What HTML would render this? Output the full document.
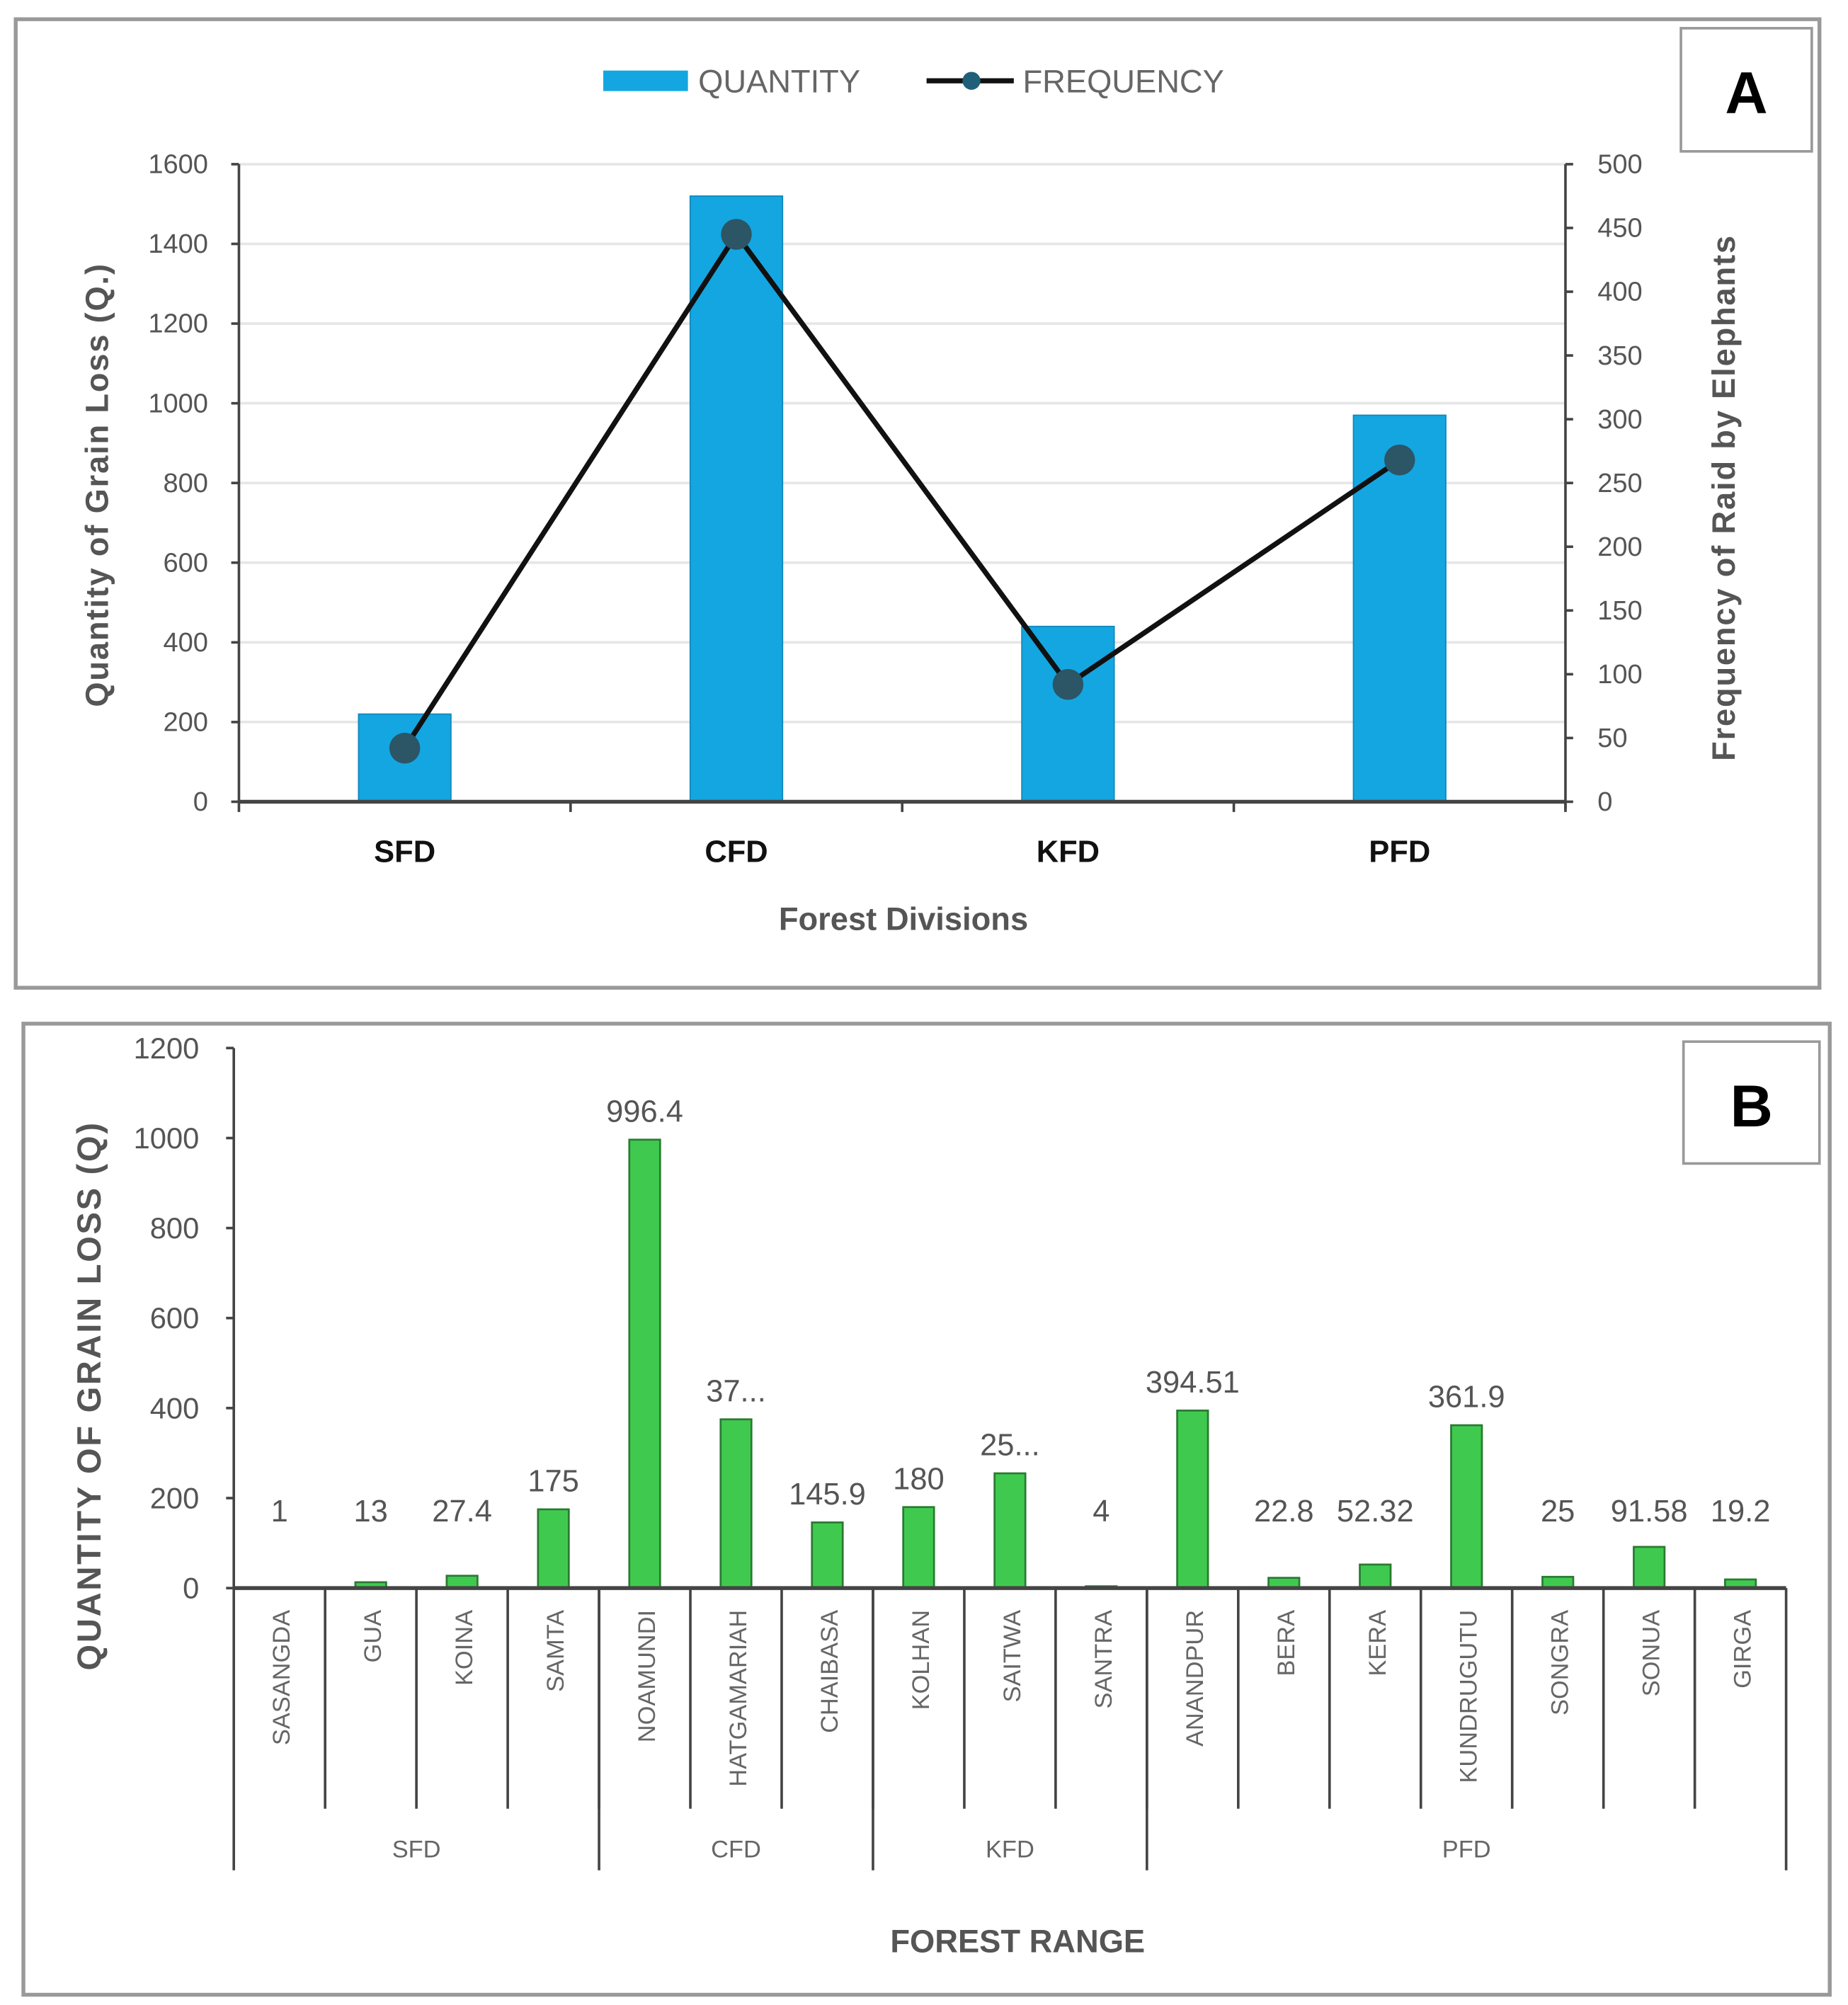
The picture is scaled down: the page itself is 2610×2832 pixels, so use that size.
<!DOCTYPE html>
<html><head><meta charset="utf-8"><style>
html,body{margin:0;padding:0;background:#fff}
svg{display:block}
text{font-family:"Liberation Sans",sans-serif}
</style></head><body>
<svg id="chart" width="2610" height="2832" viewBox="0 0 1440 1563" xmlns="http://www.w3.org/2000/svg">
<rect x="0" y="0" width="1440" height="1563" fill="#fff"/>
<g id="pa">
<rect x="12" y="15" width="1406" height="755" fill="#fff" stroke="#999" stroke-width="3"/>
<rect x="1310" y="22" width="102" height="96" fill="#fff" stroke="#999" stroke-width="2"/>
<text x="1361" y="88" font-size="46" font-weight="bold" text-anchor="middle">A</text>
<rect x="470" y="55" width="66" height="16" fill="#14a6e0"/>
<text x="544" y="72" font-size="25" fill="#666">QUANTITY</text>
<line x1="722" y1="63" x2="790" y2="63" stroke="#111" stroke-width="4"/>
<circle cx="757" cy="63" r="7" fill="#1f5f7a"/>
<text x="797" y="72" font-size="25" fill="#666">FREQUENCY</text>
<text transform="translate(84,378) rotate(-90)" font-size="25" font-weight="bold" fill="#555" text-anchor="middle" letter-spacing="1">Quantity of Grain Loss (Q.)</text>
<text transform="translate(1352,388) rotate(-90)" font-size="25" font-weight="bold" fill="#555" text-anchor="middle" letter-spacing="1">Frequency of Raid by Elephants</text>
<text x="704" y="725" font-size="25" font-weight="bold" fill="#555" text-anchor="middle">Forest Divisions</text>
</g>
<g id="pb">
<rect x="18" y="798" width="1408" height="757" fill="#fff" stroke="#999" stroke-width="3"/>
<rect x="1312" y="812" width="106" height="95" fill="#fff" stroke="#999" stroke-width="2"/>
<text x="1365" y="878" font-size="46" font-weight="bold" text-anchor="middle">B</text>
<text transform="translate(78,1088) rotate(-90)" font-size="26" font-weight="bold" fill="#555" text-anchor="middle" letter-spacing="1.5">QUANTITY OF GRAIN LOSS (Q)</text>
<text x="793" y="1522" font-size="25" font-weight="bold" fill="#555" text-anchor="middle">FOREST RANGE</text>
</g>
</svg>
<script>
// Panel A data
const divisions = ["SFD","CFD","KFD","PFD"];
const quantityA = [220,1520,440,970];
const frequencyA = [42,445,92,268];
const leftTicks = [0,200,400,600,800,1000,1200,1400,1600];
const rightTicks = [0,50,100,150,200,250,300,350,400,450,500];
// Panel B data
const ranges = ["SASANGDA","GUA","KOINA","SAMTA","NOAMUNDI","HATGAMARIAH","CHAIBASA","KOLHAN","SAITWA","SANTRA","ANANDPUR","BERA","KERA","KUNDRUGUTU","SONGRA","SONUA","GIRGA"];
const quantityB = [1,13,27.4,175,996.4,375,145.9,180,255,4,394.51,22.8,52.32,361.9,25,91.58,19.2];
const labelsB = ["1","13","27.4","175","996.4","37...","145.9","180","25...","4","394.51","22.8","52.32","361.9","25","91.58","19.2"];
const groups = ["SFD","CFD","KFD","PFD"];
const groupSizes = [4,3,3,7];
const ticksB = [0,200,400,600,800,1000,1200];

const NS="http://www.w3.org/2000/svg";
function mk(parent,tag,attrs,txt){const e=document.createElementNS(NS,tag);for(const k in attrs)e.setAttribute(k,attrs[k]);if(txt!==undefined)e.textContent=txt;parent.appendChild(e);return e;}

// Panel A
const pa=document.getElementById('pa');
const aL=186,aR=1220,aB=625,aT=128;
const yA=v=>aB-(v/1600)*(aB-aT);
const yF=v=>aB-(v/500)*(aB-aT);
const bw=(aR-aL)/divisions.length;
const xA=i=>aL+bw*(i+0.5);
leftTicks.forEach(t=>{
  if(t>0){const g=mk(pa,'line',{x1:aL,x2:aR,y1:yA(t),y2:yA(t),stroke:'#e6e6e6','stroke-width':2});
  
  }
  mk(pa,'line',{x1:aL-6,x2:aL,y1:yA(t),y2:yA(t),stroke:'#444','stroke-width':2});
  const l=mk(pa,'text',{x:162,y:yA(t)+7,'font-size':21,fill:'#555','text-anchor':'end'},t);
  
  
});
rightTicks.forEach(t=>{
  mk(pa,'line',{x1:aR,x2:aR+6,y1:yF(t),y2:yF(t),stroke:'#444','stroke-width':2});
  const l=mk(pa,'text',{x:1245,y:yF(t)+7,'font-size':21,fill:'#555'},t);
  
  
});
quantityA.forEach((v,i)=>{
  const r=mk(pa,'rect',{x:xA(i)-36,y:yA(v),width:72,height:aB-yA(v),fill:'#14a6e0',stroke:'#1189bd','stroke-width':1});
  
  
  const l=mk(pa,'text',{x:xA(i),y:672,'font-size':24,'font-weight':'bold',fill:'#111','text-anchor':'middle'},divisions[i]);
  
  
});
mk(pa,'line',{x1:aL,x2:aL,y1:aT,y2:aB,stroke:'#444','stroke-width':2});
mk(pa,'line',{x1:aR,x2:aR,y1:aT,y2:aB+6,stroke:'#444','stroke-width':2});
mk(pa,'line',{x1:aL,x2:aR,y1:aB,y2:aB,stroke:'#444','stroke-width':3});
for(let i=0;i<=divisions.length;i++)mk(pa,'line',{x1:aL+bw*i,x2:aL+bw*i,y1:aB,y2:aB+8,stroke:'#444','stroke-width':2});
const pl=mk(pa,'polyline',{points:frequencyA.map((v,i)=>xA(i)+','+yF(v)).join(' '),fill:'none',stroke:'#111','stroke-width':4});


frequencyA.forEach((v,i)=>{
  const c=mk(pa,'circle',{cx:xA(i),cy:yF(v),r:12,fill:'#2c5566'});
  
  
});

// Panel B
const pb=document.getElementById('pb');
const bL=182,bR=1392,bB=1238,bT=817;
const yB=v=>bB-(v/1200)*(bB-bT);
const cw=(bR-bL)/ranges.length;
const xB=i=>bL+cw*(i+0.5);
ticksB.forEach(t=>{
  mk(pb,'line',{x1:bL-6,x2:bL,y1:yB(t),y2:yB(t),stroke:'#444','stroke-width':2});
  const l=mk(pb,'text',{x:155,y:yB(t)+8,'font-size':23,fill:'#555','text-anchor':'end'},t);
  
  
});
mk(pb,'line',{x1:bL,x2:bL,y1:bT,y2:1458,stroke:'#444','stroke-width':2});
quantityB.forEach((v,i)=>{
  const r=mk(pb,'rect',{x:xB(i)-12,y:yB(v),width:24,height:bB-yB(v),fill:'#3fca4f',stroke:'#2a7a32','stroke-width':1.5});
  
  
  const l=mk(pb,'text',{x:xB(i),y:Math.min(yB(v),1200)-14,'font-size':24,fill:'#555','text-anchor':'middle'},labelsB[i]);
  
  
  const c=mk(pb,'text',{transform:'translate('+(xB(i)+8)+',1255) rotate(-90)','font-size':19,fill:'#666','text-anchor':'end'},ranges[i]);
  
  
  if(i>0)mk(pb,'line',{x1:bL+cw*i,x2:bL+cw*i,y1:bB,y2:1410,stroke:'#444','stroke-width':2});
});
mk(pb,'line',{x1:bL,x2:bR,y1:bB,y2:bB,stroke:'#444','stroke-width':3});
let s=0;
groups.forEach((g,k)=>{
  const x0=bL+cw*s, x1=bL+cw*(s+groupSizes[k]);
  mk(pb,'line',{x1:x1,x2:x1,y1:bB,y2:1458,stroke:'#444','stroke-width':2});
  const l=mk(pb,'text',{x:(x0+x1)/2,y:1448,'font-size':19,fill:'#666','text-anchor':'middle'},g);
  
  
  s+=groupSizes[k];
});
</script>
</body></html>
